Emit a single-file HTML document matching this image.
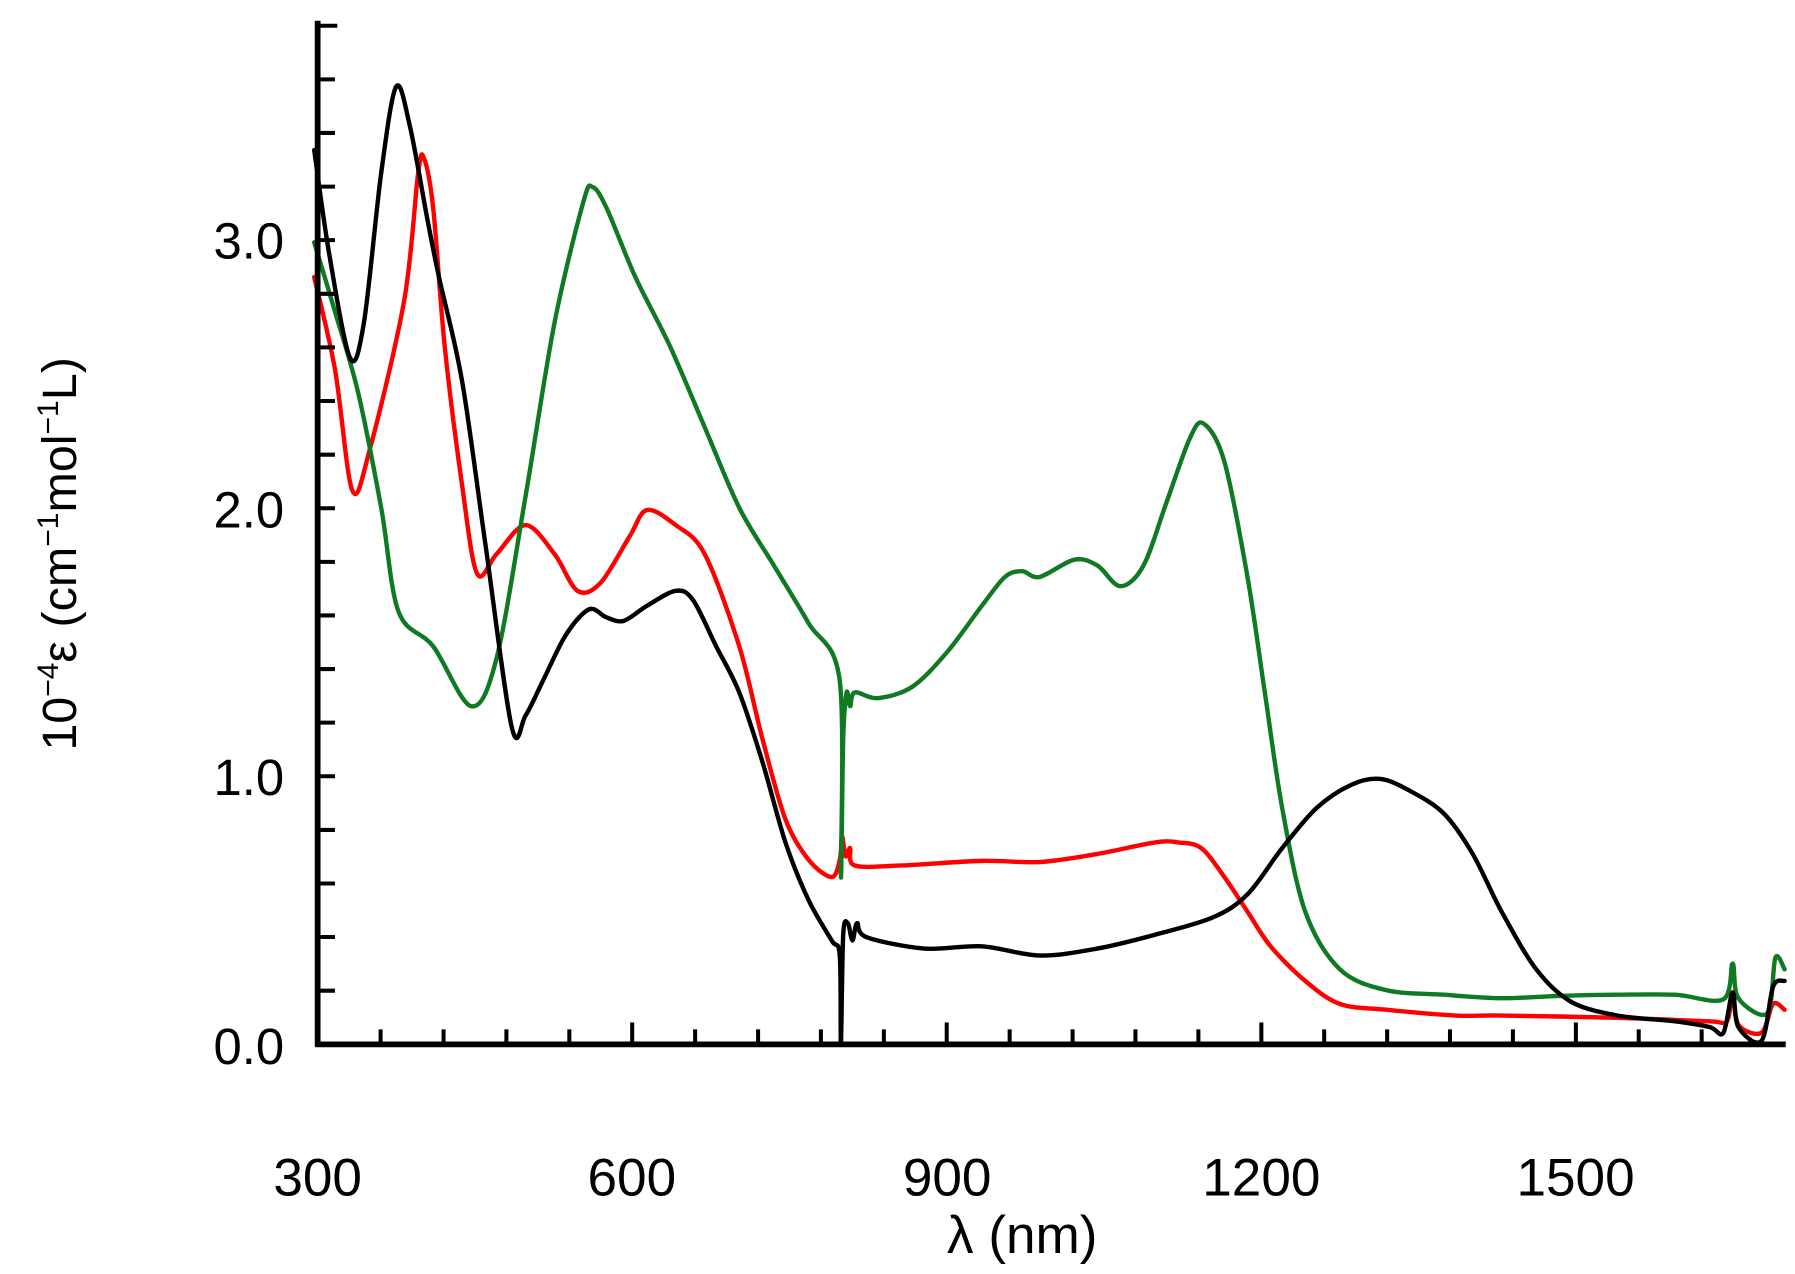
<!DOCTYPE html>
<html><head><meta charset="utf-8"><style>
html,body{margin:0;padding:0;background:#fff;}
svg{display:block;}
text{font-family:"Liberation Sans",sans-serif;fill:#000;}
</style></head><body>
<svg id="s" width="1795" height="1274" viewBox="0 0 1554 1104" preserveAspectRatio="none" xmlns="http://www.w3.org/2000/svg">
<g id="curves" fill="none" stroke-linejoin="round" stroke-linecap="round" stroke-width="3.8">
<polyline stroke="#ff0000" points="272,240 290,320 305,425 320,390 350,260 362,150 367,137 375,180 385,300 400,420 413,497 430,480 455,455 480,480 500,512 520,505 545,465 560,442 585,455 610,480 640,560 660,640 680,710 700,745 720,760 727,745 729,725 732,742 736,735 740,750 780,750 850,746 900,747 950,740 1000,730 1020,730 1040,735 1060,760 1080,790 1100,820 1130,850 1160,870 1200,875 1260,880 1300,880 1400,882 1480,885 1495,885 1500,860 1505,888 1525,895 1535,870 1545,875"/>
<polyline stroke="#107a22" points="272,210 290,270 310,340 330,440 345,530 375,560 408,612 430,570 455,430 480,280 505,175 513,162 525,180 550,240 580,300 610,370 640,440 670,490 700,540 727,590 728,760 730,640 733,600 736,612 740,600 760,605 790,595 820,565 850,525 870,500 885,495 900,500 930,485 950,490 970,508 990,490 1010,435 1030,380 1042,367 1060,400 1080,500 1095,600 1110,700 1130,790 1160,840 1200,858 1250,862 1300,865 1350,863 1400,862 1450,862 1492,866 1500,835 1505,865 1530,878 1537,830 1545,840"/>
<polyline stroke="#000" points="272,130 285,220 303,310 315,280 330,150 343,75 355,110 370,190 380,240 400,330 420,470 443,630 455,620 470,590 490,550 510,528 525,535 540,538 560,525 585,512 600,520 620,560 640,600 660,660 680,730 700,780 720,815 727,828 728,905 730,810 734,800 738,815 742,800 750,812 800,822 850,820 900,828 950,822 1000,810 1050,795 1080,775 1110,735 1140,700 1170,680 1195,675 1220,685 1250,705 1275,740 1300,790 1330,840 1360,868 1400,880 1450,885 1480,890 1492,895 1500,860 1505,890 1525,902 1535,855 1545,850"/>
</g>
<g stroke="#000" stroke-width="5" fill="none">
<line x1="275" y1="18" x2="275" y2="907"/>
<line x1="273" y1="905" x2="1546" y2="905"/>
</g>
<g stroke="#000" stroke-width="3.5">
<line x1="275" y1="858.5" x2="290" y2="858.5"/><line x1="275" y1="812" x2="290" y2="812"/><line x1="275" y1="765.6" x2="290" y2="765.6"/><line x1="275" y1="719.2" x2="290" y2="719.2"/><line x1="275" y1="672.7" x2="290" y2="672.7"/><line x1="275" y1="626.2" x2="290" y2="626.2"/><line x1="275" y1="579.8" x2="290" y2="579.8"/><line x1="275" y1="533.3" x2="290" y2="533.3"/><line x1="275" y1="486.9" x2="290" y2="486.9"/><line x1="275" y1="440.4" x2="290" y2="440.4"/><line x1="275" y1="394" x2="290" y2="394"/><line x1="275" y1="347.5" x2="290" y2="347.5"/><line x1="275" y1="301" x2="290" y2="301"/><line x1="275" y1="254.6" x2="290" y2="254.6"/><line x1="275" y1="208.1" x2="290" y2="208.1"/><line x1="275" y1="161.7" x2="290" y2="161.7"/><line x1="275" y1="115.2" x2="290" y2="115.2"/><line x1="275" y1="68.8" x2="290" y2="68.8"/><line x1="275" y1="22.3" x2="292" y2="22.3"/>
<line x1="329.5" y1="905" x2="329.5" y2="892"/><line x1="384" y1="905" x2="384" y2="892"/><line x1="438.4" y1="905" x2="438.4" y2="892"/><line x1="492.9" y1="905" x2="492.9" y2="892"/><line x1="547.3" y1="905" x2="547.3" y2="886"/><line x1="601.8" y1="905" x2="601.8" y2="892"/><line x1="656.3" y1="905" x2="656.3" y2="892"/><line x1="710.7" y1="905" x2="710.7" y2="892"/><line x1="765.2" y1="905" x2="765.2" y2="892"/><line x1="819.6" y1="905" x2="819.6" y2="886"/><line x1="874.1" y1="905" x2="874.1" y2="892"/><line x1="928.6" y1="905" x2="928.6" y2="892"/><line x1="983" y1="905" x2="983" y2="892"/><line x1="1037.5" y1="905" x2="1037.5" y2="892"/><line x1="1092" y1="905" x2="1092" y2="886"/><line x1="1146.4" y1="905" x2="1146.4" y2="892"/><line x1="1200.9" y1="905" x2="1200.9" y2="892"/><line x1="1255.3" y1="905" x2="1255.3" y2="892"/><line x1="1309.8" y1="905" x2="1309.8" y2="892"/><line x1="1364.3" y1="905" x2="1364.3" y2="886"/><line x1="1418.7" y1="905" x2="1418.7" y2="892"/><line x1="1473.2" y1="905" x2="1473.2" y2="892"/>
</g>
<g font-size="44" text-anchor="end">
<text x="246" y="224">3.0</text>
<text x="246" y="457">2.0</text>
<text x="246" y="689">1.0</text>
<text x="246" y="922">0.0</text>
</g>
<g font-size="46" text-anchor="middle">
<text x="275" y="1036">300</text>
<text x="547" y="1036">600</text>
<text x="820" y="1036">900</text>
<text x="1092" y="1036">1200</text>
<text x="1364" y="1036">1500</text>
<text x="885" y="1086" font-size="46">λ (nm)</text>
</g>
<text font-size="42" text-anchor="middle" transform="translate(66,480) rotate(-90)">10<tspan font-size="26" dy="-16">−4</tspan><tspan dy="16">ε (cm</tspan><tspan font-size="26" dy="-16">−1</tspan><tspan dy="16">mol</tspan><tspan font-size="26" dy="-16">−1</tspan><tspan dy="16">L)</tspan></text>
</svg>
<script>
document.querySelectorAll('#curves polyline').forEach(function(pl){
  var p=pl.getAttribute('points').trim().split(/\s+/).map(function(s){return s.split(',').map(Number);});
  var d='M'+p[0][0]+','+p[0][1];
  for(var i=0;i<p.length-1;i++){
    var p0=p[i-1]||p[i],p1=p[i],p2=p[i+1],p3=p[i+2]||p2;
    var t=0.16;
    var c1x=p1[0]+(p2[0]-p0[0])*t,c1y=p1[1]+(p2[1]-p0[1])*t;
    var c2x=p2[0]-(p3[0]-p1[0])*t,c2y=p2[1]-(p3[1]-p1[1])*t;
    d+=' C'+c1x+','+c1y+' '+c2x+','+c2y+' '+p2[0]+','+p2[1];
  }
  var path=document.createElementNS('http://www.w3.org/2000/svg','path');
  path.setAttribute('d',d);path.setAttribute('stroke',pl.getAttribute('stroke'));
  pl.parentNode.replaceChild(path,pl);
});
</script>
</body></html>
